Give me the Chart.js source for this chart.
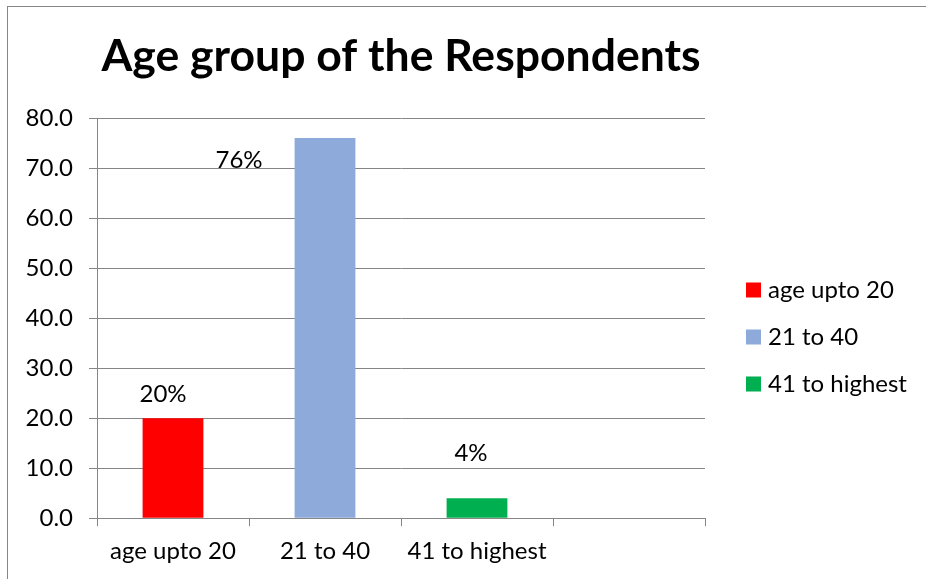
<!DOCTYPE html>
<html>
<head>
<meta charset="utf-8">
<script src="https://cdn.jsdelivr.net/npm/chart.js@4/dist/chart.umd.min.js"></script>
<style>
    html, body { margin: 0; padding: 0; background: #fff; }
    #wrap { width: 926px; height: 579px; position: relative; }
</style>
</head>
<body>
<div id="wrap"><canvas id="ageChart" width="926" height="579"></canvas></div>
<script>
const categories = ['age upto 20', '21 to 40', '41 to highest', ''];
const percentages = [20, 76, 4, null];
const valueLabels = ['20%', '76%', '4%', ''];
const barColors = ['#ff0000', '#8eaadb', '#00b050', '#ffffff'];
const yMax = 80;
const yStep = 10;

const FONT = 'Lato, "Open Sans", sans-serif';
const GRID = '#868686';

// hand-placed data labels, like the original sheet
const labelShift = [
    { dx: -10, dy: -24 },
    { dx: -86, dy: 22 },
    { dx: -6, dy: -45 }
];

const valueLabelPlugin = {
    id: 'valueLabels',
    afterDatasetsDraw(chart) {
        const ctx = chart.ctx;
        const meta = chart.getDatasetMeta(0);
        ctx.save();
        ctx.font = '24px ' + FONT;
        ctx.fillStyle = '#000';
        ctx.textAlign = 'center';
        ctx.textBaseline = 'middle';
        meta.data.forEach((bar, i) => {
            if (!valueLabels[i]) return;
            const s = labelShift[i] || { dx: 0, dy: -20 };
            ctx.fillText(valueLabels[i], bar.x + s.dx, bar.y + s.dy);
        });
        ctx.restore();
    }
};

// legend to the right of the plot, one entry per category
const sideLegend = {
    id: 'sideLegend',
    afterDraw(chart) {
        const ctx = chart.ctx;
        const area = chart.chartArea;
        const x = area.right + 41;
        let y = area.top + 172;
        ctx.save();
        ctx.font = '24px ' + FONT;
        ctx.textBaseline = 'middle';
        categories.slice(0, 3).forEach((c, i) => {
            ctx.fillStyle = barColors[i];
            ctx.fillRect(x, y - 7.5, 15, 15);
            ctx.fillStyle = '#000';
            ctx.fillText(c, x + 22, y);
            y += 47;
        });
        ctx.restore();
    }
};

const framePlugin = {
    id: 'frame',
    beforeDraw(chart) {
        const ctx = chart.ctx;
        ctx.save();
        ctx.strokeStyle = GRID;
        ctx.lineWidth = 1;
        ctx.strokeRect(7.5, 6.5, 1000, 1000);
        ctx.restore();
    }
};

new Chart(document.getElementById('ageChart').getContext('2d'), {
    type: 'bar',
    data: {
        labels: categories,
        datasets: [{
            data: percentages,
            backgroundColor: barColors,
            categoryPercentage: 1,
            barPercentage: 0.4
        }]
    },
    options: {
        responsive: false,
        animation: false,
        layout: { padding: { top: 0, right: 221, bottom: 2, left: 0 } },
        plugins: {
            tooltip: { enabled: false },
            legend: { display: false },
            title: {
                display: true,
                text: 'Age group of the Respondents',
                fullSize: false,
                color: '#000',
                font: { family: FONT, size: 44.5, weight: 'bold' },
                padding: { top: 30, bottom: 34.6 }
            }
        },
        scales: {
            y: {
                min: 0,
                max: yMax,
                afterFit: s => { s.width = 97; },
                ticks: {
                    stepSize: yStep,
                    color: '#000',
                    padding: 16,
                    font: { family: FONT, size: 24 },
                    callback: v => Number(v).toFixed(1)
                },
                grid: { color: GRID, tickLength: 8 },
                border: { color: GRID }
            },
            x: {
                ticks: {
                    color: '#000',
                    padding: 11,
                    maxRotation: 0,
                    font: { family: FONT, size: 24 }
                },
                grid: { offset: true, drawOnChartArea: false, color: GRID, tickLength: 8 },
                border: { color: GRID }
            }
        }
    },
    plugins: [framePlugin, valueLabelPlugin, sideLegend]
});
</script>
</body>
</html>
